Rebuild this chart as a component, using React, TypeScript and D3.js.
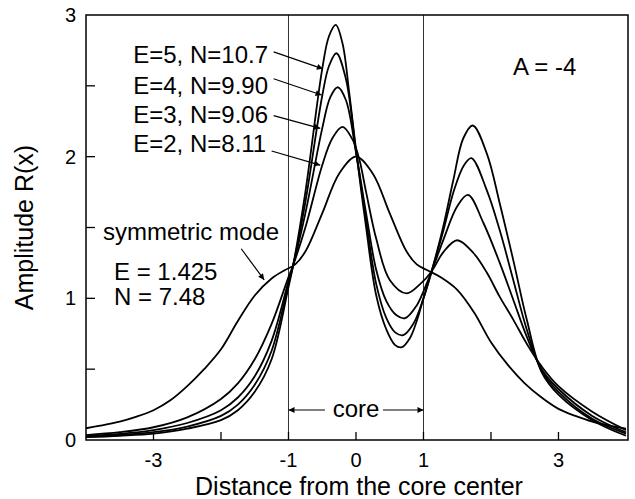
import React from 'react';
import * as d3 from 'd3';

type Pt = [number, number];

// curve samples: [distance, amplitude]
const symmetricMode: Pt[] = [
  [-4, 0.083], [-3.5, 0.13], [-3.25, 0.165], [-3, 0.21], [-2.75, 0.28], [-2.5, 0.38],
  [-2.25, 0.5], [-2, 0.64], [-1.75, 0.84], [-1.5, 1.02], [-1.25, 1.14], [-1.05, 1.2],
  [-0.9, 1.24], [-0.75, 1.33], [-0.5, 1.6], [-0.25, 1.88], [0, 2.0], [0.25, 1.88],
  [0.5, 1.6], [0.75, 1.33], [0.9, 1.24], [1.05, 1.2], [1.25, 1.15], [1.5, 1.06],
  [1.75, 0.9], [2, 0.69], [2.25, 0.53], [2.5, 0.4], [2.75, 0.3], [3, 0.22],
  [3.25, 0.17], [3.5, 0.13], [4, 0.08],
];

const modeE2: Pt[] = [
  [-4, 0.035], [-3.5, 0.055], [-3, 0.09], [-2.5, 0.16], [-2, 0.29], [-1.75, 0.4],
  [-1.5, 0.57], [-1.25, 0.82], [-1, 1.15], [-0.93, 1.235], [-0.75, 1.5], [-0.5, 1.94],
  [-0.35, 2.13], [-0.2, 2.21], [-0.05, 2.12], [0.05, 1.98], [0.15, 1.75], [0.3, 1.42],
  [0.5, 1.13], [0.75, 1.035], [0.95, 1.1], [1.12, 1.19], [1.3, 1.33], [1.5, 1.41],
  [1.74, 1.32], [1.94, 1.18], [2.13, 1.01], [2.33, 0.85], [2.53, 0.68], [2.75, 0.52],
  [3, 0.38], [3.5, 0.2], [4, 0.07],
];

const modeE3: Pt[] = [
  [-4, 0.028], [-3.5, 0.043], [-3, 0.07], [-2.5, 0.12], [-2, 0.21], [-1.75, 0.3],
  [-1.5, 0.45], [-1.25, 0.7], [-1, 1.12], [-0.93, 1.235], [-0.75, 1.6], [-0.5, 2.2],
  [-0.38, 2.42], [-0.27, 2.49], [-0.15, 2.4], [0, 2.03], [0.15, 1.6], [0.3, 1.2],
  [0.45, 0.98], [0.6, 0.88], [0.73, 0.86], [0.9, 0.95], [1.0, 1.05], [1.12, 1.19],
  [1.3, 1.42], [1.5, 1.65], [1.66, 1.73], [1.89, 1.53], [2.13, 1.25], [2.33, 0.99],
  [2.53, 0.73], [2.75, 0.5], [3, 0.36], [3.5, 0.17], [4, 0.055],
];

const modeE4: Pt[] = [
  [-4, 0.024], [-3.5, 0.035], [-3, 0.055], [-2.5, 0.095], [-2, 0.17], [-1.75, 0.25],
  [-1.5, 0.39], [-1.25, 0.63], [-1, 1.1], [-0.93, 1.235], [-0.75, 1.68], [-0.5, 2.43],
  [-0.4, 2.64], [-0.29, 2.73], [-0.15, 2.55], [0, 2.04], [0.15, 1.55], [0.3, 1.1],
  [0.45, 0.86], [0.58, 0.76], [0.7, 0.74], [0.85, 0.82], [1.0, 1.0], [1.12, 1.19],
  [1.29, 1.47], [1.45, 1.76], [1.6, 1.94], [1.71, 1.99], [1.94, 1.76], [2.13, 1.48],
  [2.33, 1.13], [2.53, 0.78], [2.75, 0.49], [3, 0.34], [3.5, 0.15], [4, 0.045],
];

const modeE5: Pt[] = [
  [-4, 0.02], [-3.5, 0.03], [-3, 0.045], [-2.5, 0.08], [-2, 0.14], [-1.75, 0.21],
  [-1.5, 0.34], [-1.25, 0.57], [-1, 1.08], [-0.93, 1.235], [-0.75, 1.75], [-0.5, 2.62],
  [-0.4, 2.85], [-0.3, 2.93], [-0.2, 2.8], [-0.1, 2.45], [0, 2.05], [0.15, 1.5],
  [0.3, 1.02], [0.45, 0.78], [0.58, 0.67], [0.68, 0.655], [0.8, 0.72], [0.9, 0.84],
  [1.0, 1.0], [1.12, 1.19], [1.29, 1.5], [1.44, 1.83], [1.59, 2.13], [1.73, 2.22],
  [1.94, 2.02], [2.13, 1.67], [2.33, 1.27], [2.53, 0.85], [2.75, 0.48], [3, 0.32],
  [3.5, 0.14], [4, 0.03],
];

const allCurves = [symmetricMode, modeE2, modeE3, modeE4, modeE5];

const curveLabels = ['E=5, N=10.7', 'E=4, N=9.90', 'E=3, N=9.06', 'E=2, N=8.11'];
// label baseline (data y) and arrow start / tip (data coords)
const labelY = [2.66, 2.44, 2.24, 2.03];
const arrowFrom: Pt[] = [[-1.22, 2.74], [-1.22, 2.55], [-1.22, 2.29], [-1.25, 2.04]];
const arrowTo: Pt[] = [[-0.49, 2.62], [-0.51, 2.435], [-0.53, 2.2], [-0.53, 1.94]];

const xTicks = [-3, -2, -1, 0, 1, 2, 3];
const xTickLabels = [-3, -1, 0, 1, 3];
const yTicks = [0.5, 1, 1.5, 2, 2.5];
const yTickLabels = [0, 1, 2, 3];
const coreBounds = [-1, 1];

const W = 635;
const H = 499;
const margin = { top: 15, right: 7, bottom: 59, left: 86 };
const font = '"Liberation Sans", Arial, Helvetica, sans-serif';

export default function App() {
  const x = d3.scaleLinear().domain([-4, 4.03]).range([margin.left, W - margin.right]);
  const y = d3.scaleLinear().domain([0, 3]).range([H - margin.bottom, margin.top]);

  const line = d3
    .line<Pt>()
    .x((d) => x(d[0]))
    .y((d) => y(d[1]))
    .curve(d3.curveCatmullRom.alpha(0.5));

  const x0 = x.range()[0];
  const x1 = x.range()[1];
  const yb = y(0);
  const yt = y(3);

  return (
    <svg width={W} height={H} style={{ position: 'absolute', left: 0, top: 0, background: '#fff' }}>
      <defs>
        <marker id="arr" viewBox="0 0 10 10" refX="10" refY="5" markerWidth="9" markerHeight="6"
          markerUnits="userSpaceOnUse" orient="auto">
          <path d="M0,0 L10,5 L0,10 z" fill="#000" />
        </marker>
      </defs>

      {/* core boundaries */}
      {coreBounds.map((c) => (
        <line key={c} x1={x(c)} x2={x(c)} y1={yt} y2={yb} stroke="#333" strokeWidth={1} />
      ))}

      {/* curves */}
      <g fill="none" stroke="#000" strokeWidth={1.8}>
        {allCurves.map((c, i) => (
          <path key={i} d={line(c) ?? ''} />
        ))}
      </g>

      {/* frame */}
      <rect x={x0} y={yt} width={x1 - x0} height={yb - yt} fill="none" stroke="#000" strokeWidth={1.5} />

      {/* ticks */}
      <g stroke="#000" strokeWidth={1.3}>
        {xTicks.map((t) => (
          <line key={t} x1={x(t)} x2={x(t)} y1={yb} y2={yb - 8} />
        ))}
        {yTicks.map((t) => (
          <line key={t} x1={x0} x2={x0 + 9} y1={y(t)} y2={y(t)} />
        ))}
      </g>

      <g fontFamily={font} fontSize={20} fill="#000">
        {xTickLabels.map((t) => (
          <text key={t} x={x(t)} y={yb + 27} textAnchor="middle">{t}</text>
        ))}
        {yTickLabels.map((t) => (
          <text key={t} x={x0 - 10} y={y(t) + 7} textAnchor="end">{t}</text>
        ))}
      </g>

      {/* axis titles */}
      <text x={(x0 + x1) / 2 + 2} y={495} textAnchor="middle" fontFamily={font} fontSize={25}>
        Distance from the core center
      </text>
      <text transform={`translate(33,${(yt + yb) / 2}) rotate(-90)`} textAnchor="middle"
        fontFamily={font} fontSize={25}>
        Amplitude R(x)
      </text>

      {/* annotations */}
      <g fontFamily={font} fontSize={24} fill="#000">
        {curveLabels.map((l, i) => (
          <text key={l} x={x(-3.3)} y={y(labelY[i])}>{l}</text>
        ))}
        <text x={513} y={75}>A = -4</text>
        <text x={103} y={240}>symmetric mode</text>
        <text x={114} y={280}>E = 1.425</text>
        <text x={114} y={305}>N = 7.48</text>
        <text x={(x(-1) + x(1)) / 2} y={417} textAnchor="middle">core</text>
      </g>

      <g stroke="#000" strokeWidth={1.2} markerEnd="url(#arr)">
        {arrowFrom.map((a, i) => (
          <line key={i} x1={x(a[0])} y1={y(a[1])} x2={x(arrowTo[i][0])} y2={y(arrowTo[i][1])} />
        ))}
        <line x1={x(-1.7)} y1={y(1.35)} x2={x(-1.36)} y2={y(1.13)} />
        <line x1={x(-0.46)} y1={410} x2={x(-1)} y2={410} />
        <line x1={x(0.4)} y1={410} x2={x(1)} y2={410} />
      </g>
    </svg>
  );
}
